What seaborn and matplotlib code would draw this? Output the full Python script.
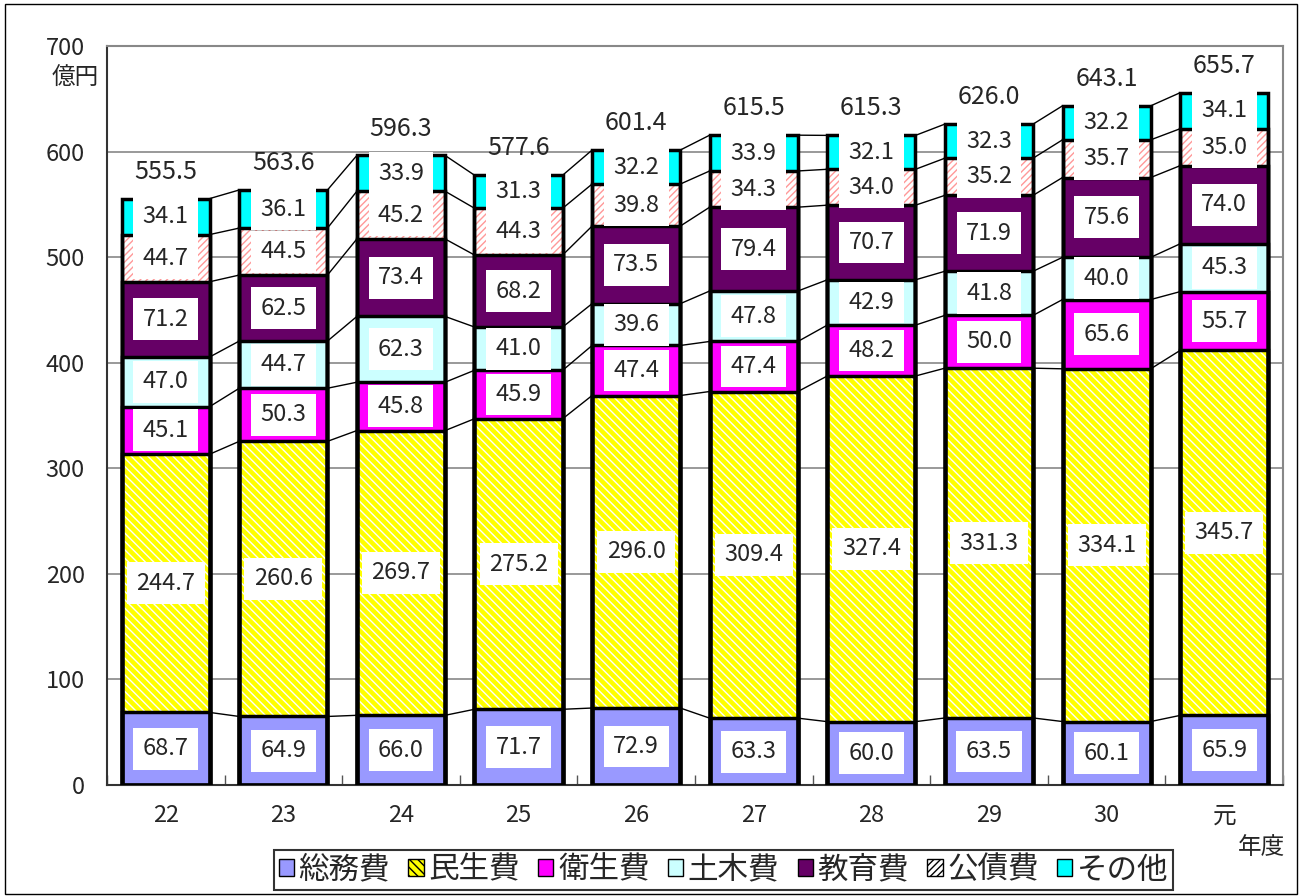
import numpy as np
import pandas as pd
import matplotlib
matplotlib.use('Agg')
import matplotlib.pyplot as plt
import seaborn as sns
from matplotlib.patches import Patch, Rectangle

# data (億円)
years = ['22', '23', '24', '25', '26', '27', '28', '29', '30', '元']
categories = ['総務費', '民生費', '衛生費', '土木費', '教育費', '公債費', 'その他']
somu = [68.7, 64.9, 66.0, 71.7, 72.9, 63.3, 60.0, 63.5, 60.1, 65.9]
minsei = [244.7, 260.6, 269.7, 275.2, 296.0, 309.4, 327.4, 331.3, 334.1, 345.7]
eisei = [45.1, 50.3, 45.8, 45.9, 47.4, 47.4, 48.2, 50.0, 65.6, 55.7]
doboku = [47.0, 44.7, 62.3, 41.0, 39.6, 47.8, 42.9, 41.8, 40.0, 45.3]
kyoiku = [71.2, 62.5, 73.4, 68.2, 73.5, 79.4, 70.7, 71.9, 75.6, 74.0]
kosai = [44.7, 44.5, 45.2, 44.3, 39.8, 34.3, 34.0, 35.2, 35.7, 35.0]
sonota = [34.1, 36.1, 33.9, 31.3, 32.2, 33.9, 32.1, 32.3, 32.2, 34.1]
totals = [555.5, 563.6, 596.3, 577.6, 601.4, 615.5, 615.3, 626.0, 643.1, 655.7]

face_colors = ['#9999ff', '#ffff00', '#ff00ff', '#ccffff', '#660066', '#ffffff', '#00ffff']
hatches = [None, '\\\\\\\\', None, None, None, '/////', None]
hatch_colors = [None, '#ffffff', None, None, None, '#ff9999', None]

sns.set_theme(style='white')
plt.rcParams['font.family'] = ['Noto Sans CJK JP', 'DejaVu Sans']
plt.rcParams['hatch.linewidth'] = 1.0

df = pd.DataFrame(dict(zip(categories, [somu, minsei, eisei, doboku, kyoiku, kosai, sonota])), index=years)
cum = df.cumsum(axis=1)

fig = plt.figure(figsize=(13.06, 8.96), dpi=100)
ax = fig.add_axes([0.0819, 0.1239, 0.9005, 0.8248])

bar_w = 0.75

# filled segments, drawn from the top cumulative level down
for k in reversed(range(len(categories))):
    col = categories[k]
    n0 = len(ax.patches)
    sns.barplot(x=years, y=cum[col].values, color=face_colors[k], saturation=1,
                width=bar_w, errorbar=None, ax=ax)
    for p in ax.patches[n0:]:
        p.set_facecolor(face_colors[k])
        p.set_linewidth(0)
        if hatches[k]:
            p.set_hatch(hatches[k])
            p.set_edgecolor(hatch_colors[k])
        else:
            p.set_edgecolor('none')
        p.set_zorder(2)

# black outlines
for k in range(len(categories)):
    col = categories[k]
    n0 = len(ax.patches)
    sns.barplot(x=years, y=cum[col].values, color='black', saturation=1,
                width=bar_w, errorbar=None, ax=ax)
    for p in ax.patches[n0:]:
        p.set_facecolor('none')
        p.set_edgecolor('black')
        p.set_linewidth(2.5)
        p.set_zorder(3)

# series connector lines
for k in range(len(categories)):
    vals = cum[categories[k]].values
    for i in range(len(years) - 1):
        ax.plot([i + bar_w / 2, i + 1 - bar_w / 2], [vals[i], vals[i + 1]],
                color='black', lw=1, zorder=2)

# value labels
for k in range(len(categories)):
    col = categories[k]
    for i in range(len(years)):
        v = df[col].iloc[i]
        yc = cum[col].iloc[i] - v / 2
        ax.text(i, yc, f'{v:.1f}', ha='center', va='center', fontsize=17, zorder=5,
                bbox=dict(boxstyle='square,pad=0.4', fc='white', ec='none'))

# totals
for i, t in enumerate(totals):
    ax.annotate(f'{t:.1f}', (i, t), xytext=(0, 10), textcoords='offset points',
                ha='center', va='bottom', fontsize=18, zorder=5)

ax.set_xlim(-0.5, len(years) - 0.5)
ax.set_ylim(0, 700)
ax.set_yticks(range(0, 701, 100))
ax.yaxis.grid(True, color='#888888', lw=1.2)
ax.xaxis.grid(False)
ax.set_axisbelow(True)
ax.set_xlabel('')
ax.set_ylabel('')
ax.tick_params(axis='y', length=0, pad=16, labelsize=17)
ax.tick_params(axis='x', which='major', length=0, pad=14, labelsize=17)
ax.set_xticks(np.arange(-0.5, len(years), 1), minor=True)
ax.tick_params(axis='x', which='minor', direction='in', length=7, color='#555555', bottom=True)
for s in ['left', 'bottom']:
    ax.spines[s].set_color('#333333')
    ax.spines[s].set_linewidth(1.5)
for s in ['right', 'top']:
    ax.spines[s].set_color('#888888')
    ax.spines[s].set_linewidth(1.5)

ax.text(-0.027, 669, '億円', transform=ax.get_yaxis_transform(), ha='center', va='center', fontsize=17)
ax.text(0.982, -0.085, '年度', transform=ax.transAxes, ha='center', va='center', fontsize=17)

# legend
handles = []
for k in range(len(categories)):
    handles.append(Patch(facecolor=face_colors[k], edgecolor='black', hatch=hatches[k], lw=1))
leg = fig.legend(handles, categories, loc='center', bbox_to_anchor=(0.554, 0.029), ncol=7,
                 fontsize=22, frameon=True, fancybox=False, edgecolor='black',
                 handlelength=0.5, handleheight=0.5, handletextpad=0.15,
                 columnspacing=0.6, borderpad=0.15, borderaxespad=0)
leg.get_frame().set_linewidth(1.5)

fig.patches.append(Rectangle((0.004, 0.002), 0.989, 0.994, transform=fig.transFigure,
                             fill=False, ec='black', lw=1))

fig.savefig('out.png', dpi=100)
